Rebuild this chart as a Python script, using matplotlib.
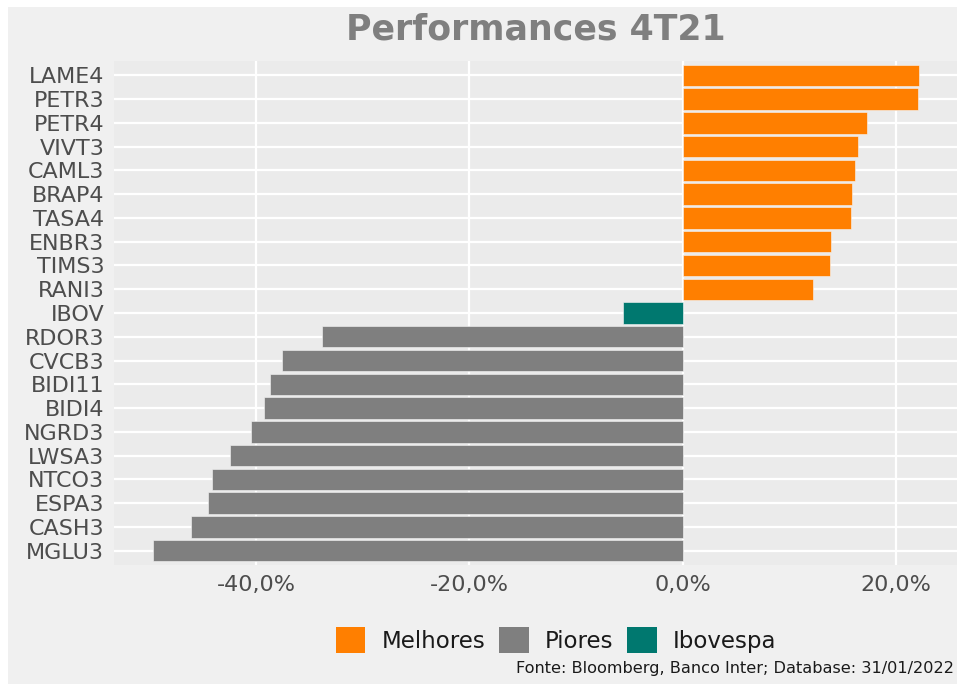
import matplotlib
matplotlib.use("Agg")
from matplotlib import pyplot as plt
from matplotlib.patches import Patch, Rectangle

plt.rcParams['font.family'] = ['DejaVu Sans']

# top to bottom
tickers = ['LAME4', 'PETR3', 'PETR4', 'VIVT3', 'CAML3', 'BRAP4', 'TASA4',
           'ENBR3', 'TIMS3', 'RANI3', 'IBOV', 'RDOR3', 'CVCB3', 'BIDI11',
           'BIDI4', 'NGRD3', 'LWSA3', 'NTCO3', 'ESPA3', 'CASH3', 'MGLU3']
perf = [22.1, 22.0, 17.3, 16.4, 16.1, 15.9, 15.8,
        13.9, 13.8, 12.2, -5.6, -33.8, -37.6, -38.7,
        -39.2, -40.5, -42.4, -44.1, -44.5, -46.1, -49.6]
group = ['Melhores'] * 10 + ['Ibovespa'] + ['Piores'] * 10

colors = {'Melhores': '#FF7F00', 'Piores': '#7F7F7F', 'Ibovespa': '#00786F'}
xticks = [-40, -20, 0, 20]
xlabels = ['-40,0%', '-20,0%', '0,0%', '20,0%']

fig = plt.figure(figsize=(9.57, 6.84), dpi=100)
fig.patch.set_facecolor('white')
fig.patches.append(Rectangle((8 / 957, 0), 1, 1 - 7 / 684, transform=fig.transFigure,
                             facecolor='#F0F0F0', edgecolor='none', zorder=-10))

ax = fig.add_axes([114 / 957, 119 / 684, 1 - 114 / 957, (623 - 119) / 684])
ax.set_facecolor('#EBEBEB')

n = len(tickers)
ys = [n - 1 - i for i in range(n)]
ax.barh(ys, perf, height=0.9, color=[colors[g] for g in group],
        edgecolor='#F5F5F5', linewidth=0.4, zorder=3)

ax.set_yticks(ys)
ax.set_yticklabels(tickers, fontsize=16, color='#4D4D4D')
ax.set_xticks(xticks)
ax.set_xticklabels(xlabels, fontsize=16, color='#4D4D4D')
ax.set_xlim(-53.3, 25.7)
ax.set_ylim(-0.6, n - 0.4)
ax.tick_params(axis='y', length=0, pad=7)
ax.tick_params(axis='x', length=0, pad=7)
ax.grid(True, color='white', linewidth=1.6, zorder=0)
for s in ax.spines.values():
    s.set_visible(False)

fig.text((114 + 957) / 2 / 957, 1 - 30 / 684, 'Performances 4T21', ha='center', va='center',
         fontsize=25, fontweight='bold', color='#7F7F7F')

handles = [Patch(facecolor=colors[k], edgecolor='none', label=k)
           for k in ['Melhores', 'Piores', 'Ibovespa']]
fig.legend(handles=handles, loc='center', bbox_to_anchor=(556 / 957, 1 - 640 / 684),
           ncol=3, frameon=False, fontsize=16.5, handlelength=1.3, handleheight=1.4,
           handletextpad=0.7, columnspacing=0.6, labelcolor='#1A1A1A')

fig.text(954 / 957, 1 - 669 / 684, 'Fonte: Bloomberg, Banco Inter; Database: 31/01/2022',
         ha='right', va='center', fontsize=11.6, color='#1A1A1A')

fig.savefig('out.png', dpi=100, facecolor=fig.get_facecolor())
